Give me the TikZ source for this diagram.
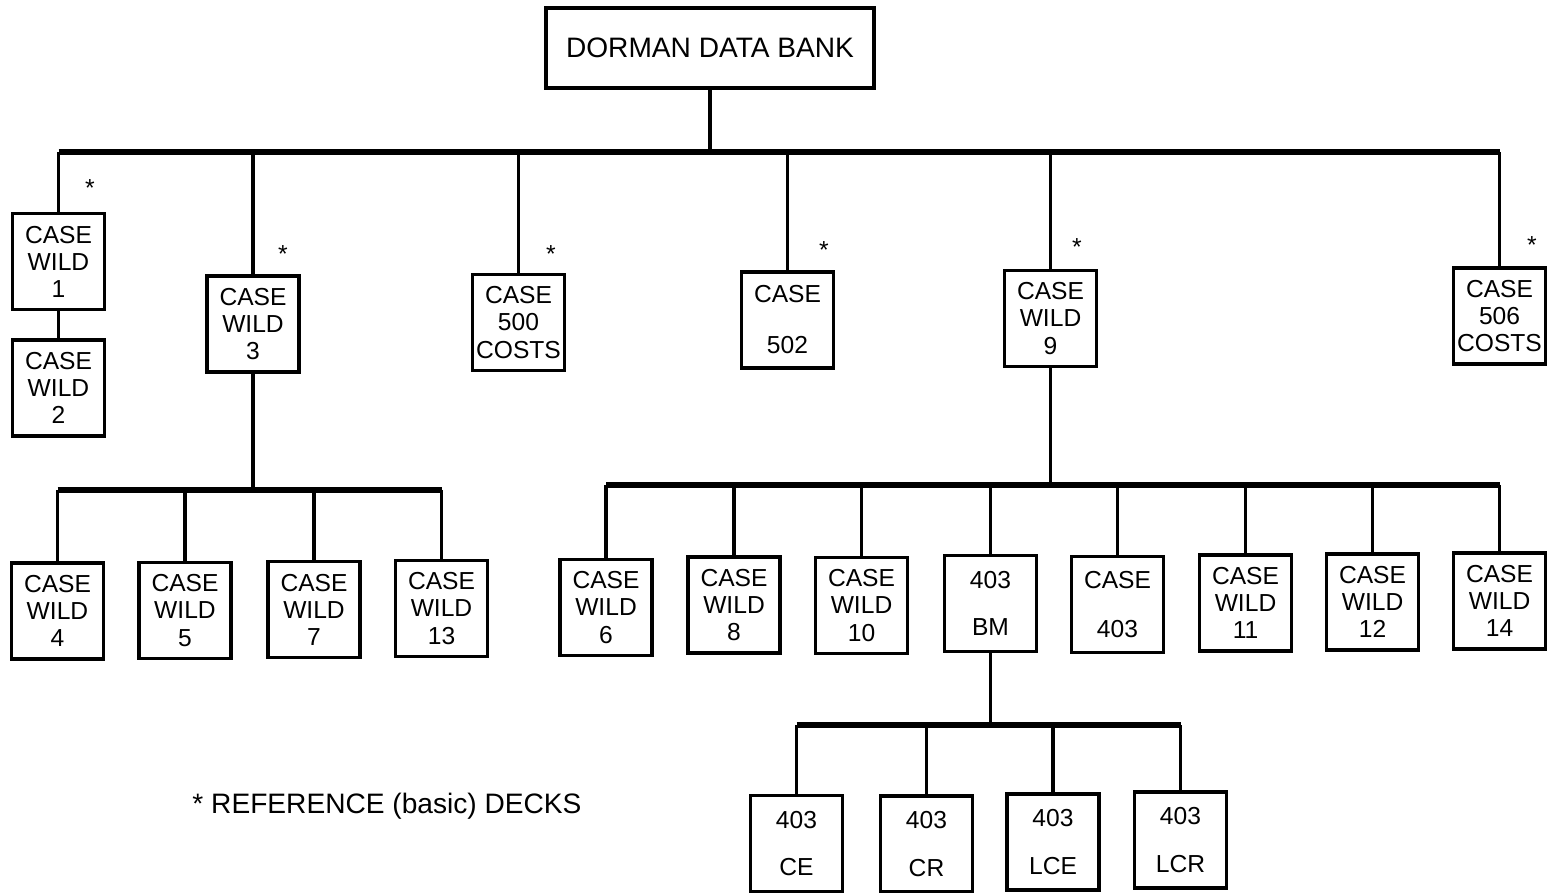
\documentclass[tikz,border=0pt]{standalone}
\usepackage{fontspec}
\setmainfont{Liberation Sans}
\tikzset{
  deck/.style={draw, line width=1.1pt, minimum width=0.92cm, minimum height=0.96cm, inner sep=0pt, align=center, font=\fontsize{7}{7.7}\selectfont},
  bus/.style={line width=1.5pt},
  stem/.style={line width=1pt},
  refmark/.style={font=\fontsize{7}{7}\selectfont, inner sep=0pt}
}
\begin{document}
\begin{tikzpicture}
    \useasboundingbox (0,0) rectangle (15.51,-8.93);

    % Data bank
    \node[draw, line width=1.1pt, minimum width=3.28cm, minimum height=0.80cm, font=\fontsize{8}{8}\selectfont] (bank) at (7.10,-0.48) {DORMAN DATA BANK};
    \coordinate (mainbus) at (7.10,-1.52);

    % First level decks
    \node[deck] (cw1) at (0.585,-2.615) {CASE\\WILD\\1};
    \node[deck] (cw2) at (0.585,-3.88) {CASE\\WILD\\2};
    \node[deck] (cw3) at (2.53,-3.24) {CASE\\WILD\\3};
    \node[deck] (c500) at (5.185,-3.225) {CASE\\500\\COSTS};
    \node[deck] (c502) at (7.875,-3.20) {CASE\\[2.4mm]502};
    \node[deck] (cw9) at (10.505,-3.185) {CASE\\WILD\\9};
    \node[deck] (c506) at (14.995,-3.16) {CASE\\506\\COSTS};

    % Reference marks
    \node[refmark] (star1) at (0.90,-1.88) {*};
    \node[refmark] (star3) at (2.83,-2.54) {*};
    \node[refmark] (star500) at (5.51,-2.54) {*};
    \node[refmark] (star502) at (8.24,-2.50) {*};
    \node[refmark] (star9) at (10.77,-2.47) {*};
    \node[refmark] (star506) at (15.32,-2.45) {*};

    \draw[stem] (bank.south) -- (mainbus);
    \draw[bus] (cw1.north |- mainbus) -- (c506.north |- mainbus);
    \foreach \n in {cw1,cw3,c500,c502,cw9,c506}
        \draw[stem] (\n.north |- mainbus) -- (\n.north);
    \draw[stem] (cw1.south) -- (cw1.south |- cw2.north);

    % Under CASE WILD 3
    \node[deck] (cw4) at (0.575,-6.11) {CASE\\WILD\\4};
    \node[deck] (cw5) at (1.85,-6.105) {CASE\\WILD\\5};
    \node[deck] (cw7) at (3.14,-6.095) {CASE\\WILD\\7};
    \node[deck] (cw13) at (4.415,-6.085) {CASE\\WILD\\13};
    \coordinate (busA) at (2.53,-4.90);

    \draw[stem] (cw3.south) -- (busA);
    \draw[bus] (cw4.north |- busA) -- (cw13.north |- busA);
    \foreach \n in {cw4,cw5,cw7,cw13}
        \draw[stem] (\n.north |- busA) -- (\n.north);

    % Under CASE WILD 9
    \node[deck] (cw6) at (6.06,-6.075) {CASE\\WILD\\6};
    \node[deck] (cw8) at (7.34,-6.05) {CASE\\WILD\\8};
    \node[deck] (cw10) at (8.615,-6.055) {CASE\\WILD\\10};
    \node[deck] (bm) at (9.905,-6.035) {403\\[2mm]BM};
    \node[deck] (c403) at (11.175,-6.045) {CASE\\[2.2mm]403};
    \node[deck] (cw11) at (12.455,-6.03) {CASE\\WILD\\11};
    \node[deck] (cw12) at (13.725,-6.02) {CASE\\WILD\\12};
    \node[deck] (cw14) at (14.995,-6.01) {CASE\\WILD\\14};
    \coordinate (busB) at (10.505,-4.85);

    \draw[stem] (cw9.south) -- (busB);
    \draw[bus] (cw6.north |- busB) -- (cw14.north |- busB);
    \foreach \n in {cw6,cw8,cw10,bm,c403,cw11,cw12,cw14}
        \draw[stem] (\n.north |- busB) -- (\n.north);

    % Under 403 BM
    \node[deck] (ce) at (7.965,-8.435) {403\\[2mm]CE};
    \node[deck] (cr) at (9.265,-8.44) {403\\[2mm]CR};
    \node[deck] (lce) at (10.53,-8.42) {403\\[2mm]LCE};
    \node[deck] (lcr) at (11.805,-8.40) {403\\[2mm]LCR};
    \coordinate (busC) at (9.905,-7.25);

    \draw[stem] (bm.south) -- (busC);
    \draw[bus] (ce.north |- busC) -- (lcr.north |- busC);
    \foreach \n in {ce,cr,lce,lcr}
        \draw[stem] (\n.north |- busC) -- (\n.north);

    % Legend
    \node[font=\fontsize{8}{8}\selectfont] (legend) at (3.87,-8.06) {* REFERENCE (basic) DECKS};
\end{tikzpicture}
\end{document}
